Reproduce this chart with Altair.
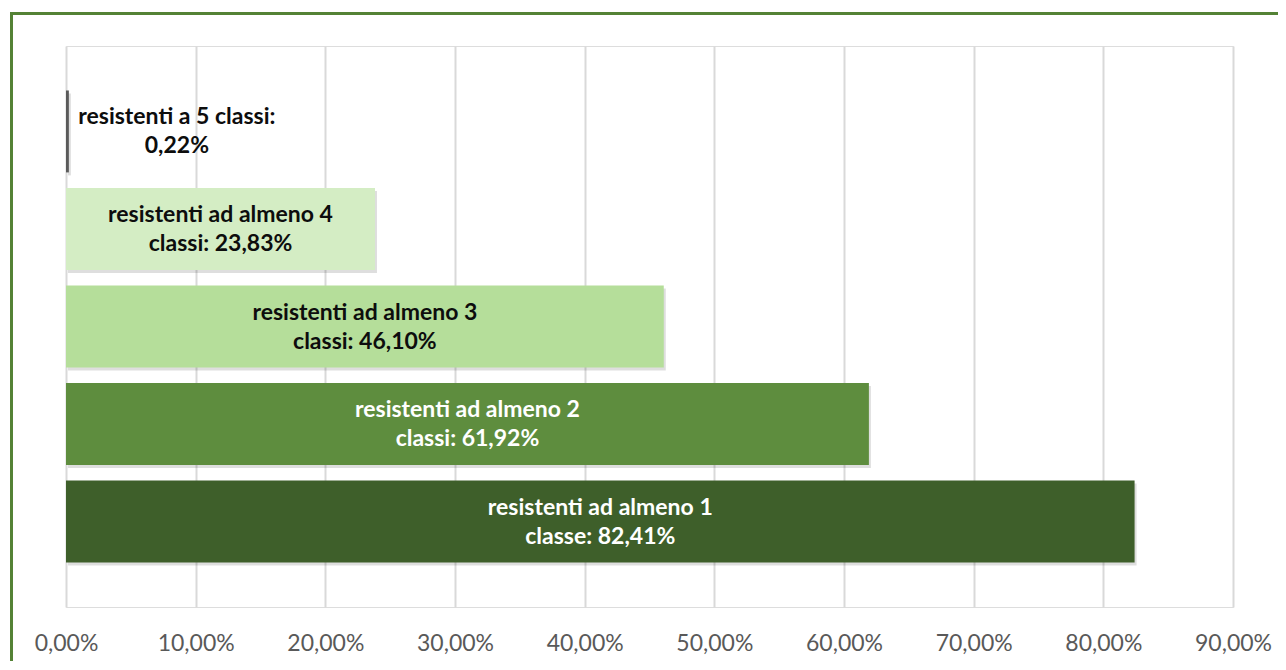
import altair as alt
import pandas as pd

categories = [
    "resistenti a 5 classi",
    "resistenti ad almeno 4 classi",
    "resistenti ad almeno 3 classi",
    "resistenti ad almeno 2 classi",
    "resistenti ad almeno 1 classe",
]
values = [0.0022, 0.2383, 0.4610, 0.6192, 0.8241]
label_line1 = [
    "resistenti a 5 classi:",
    "resistenti ad almeno 4",
    "resistenti ad almeno 3",
    "resistenti ad almeno 2",
    "resistenti ad almeno 1",
]
label_line2 = ["0,22%", "classi: 23,83%", "classi: 46,10%", "classi: 61,92%", "classe: 82,41%"]
bar_colors = ["#5A5A5A", "#D4EDC4", "#B5DE9A", "#5E8D3E", "#3E5F2A"]
text_colors = ["#0D0D0D", "#0D0D0D", "#0D0D0D", "#FFFFFF", "#FFFFFF"]
tick_values = [0.0, 0.1, 0.2, 0.3, 0.4, 0.5, 0.6, 0.7, 0.8, 0.9]

df = pd.DataFrame({
    "cat": categories,
    "value": values,
    "label": [a + "\n" + b for a, b in zip(label_line1, label_line2)],
})

W, H = 1167, 561
FONT = "Lato"
LABEL_SIZE = 23

y_enc = alt.Y("cat:N", sort=categories, axis=None,
              scale=alt.Scale(paddingInner=0.16, paddingOuter=0.456))
x_scale = alt.Scale(domain=[0, 0.9], nice=False, zero=True)

base = alt.Chart(df)

shadow = base.mark_bar(color="#000000", opacity=0.13, xOffset=2, x2Offset=3,
                       yOffset=3, y2Offset=4).encode(
    x=alt.X("value:Q", scale=x_scale,
            axis=alt.Axis(values=tick_values, title=None, domain=False, ticks=False,
                          tickSize=0, labelPadding=25, grid=True, gridColor="#D9D9D9",
                          gridWidth=2, labelColor="#595959", labelFontSize=23,
                          labelFont=FONT, labelFlush=False, labelOverlap=False,
                          labelExpr="replace(format(datum.value, '.2%'), '.', ',')")),
    y=y_enc,
)

bars = base.mark_bar().encode(
    x=alt.X("value:Q", scale=x_scale),
    y=y_enc,
    color=alt.Color("cat:N", sort=categories,
                    scale=alt.Scale(domain=categories, range=bar_colors), legend=None),
)

inner_text = base.transform_filter(alt.datum.value > 0.05).transform_calculate(
    mid="datum.value / 2"
).mark_text(font=FONT, fontWeight="bold", fontSize=LABEL_SIZE, lineBreak="\n",
            lineHeight=29, align="center", baseline="middle", dy=-14).encode(
    x=alt.X("mid:Q", scale=x_scale),
    y=y_enc,
    text="label:N",
    color=alt.Color("cat:N", sort=categories,
                    scale=alt.Scale(domain=categories, range=text_colors), legend=None),
)

outer_text = base.transform_filter(alt.datum.value <= 0.05).mark_text(
    font=FONT, fontWeight="bold", fontSize=LABEL_SIZE, lineBreak="\n", lineHeight=29,
    align="center", baseline="middle", dx=108, dy=-14, color="#0D0D0D").encode(
    x=alt.X("value:Q", scale=x_scale),
    y=y_enc,
    text="label:N",
)

frame = alt.Chart(alt.Data(values=[{"k": 1}])).mark_rect(
    fill=None, stroke="#548235", strokeWidth=3, clip=False).encode(
    x=alt.value(-54.5), x2=alt.value(W + 80),
    y=alt.value(-32.5), y2=alt.value(H + 80),
)

chart = alt.layer(shadow, bars, inner_text, outer_text, frame).resolve_scale(
    color="independent"
).properties(
    width=W, height=H,
    padding={"left": 58, "top": 38, "right": 45, "bottom": 54},
    autosize=alt.AutoSizeParams(type="none"),
).configure_view(stroke=None).configure(background="white")

chart.save("out.html", embed_options={"renderer": "svg", "actions": False})
